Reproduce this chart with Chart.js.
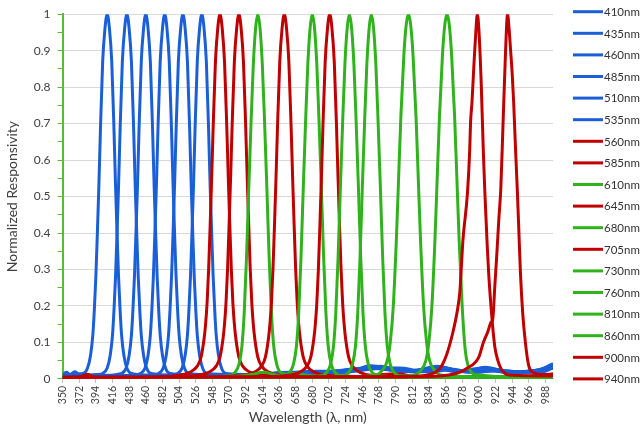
<!DOCTYPE html>
<html>
<head>
<meta charset="utf-8">
<script src="https://cdn.jsdelivr.net/npm/chart.js@4.4.0/dist/chart.umd.min.js"></script>
<style>
  body { margin: 0; background: #fff; }
  #wrap { width: 644px; height: 426px; }
</style>
</head>
<body>
<div id="wrap"><canvas id="resp-chart"></canvas></div>
<script>
/* eslint-disable no-undef */
// Ticks
const xTicks = [350, 372, 394, 416, 438, 460, 482, 504, 526, 548, 570, 592, 614, 636, 658, 680,
  702, 724, 746, 768, 790, 812, 834, 856, 878, 900, 922, 944, 966, 988];
const seriesNames = ['410nm', '435nm', '460nm', '485nm', '510nm', '535nm', '560nm', '585nm', '610nm',
  '645nm', '680nm', '705nm', '730nm', '760nm', '810nm', '860nm', '900nm', '940nm'];
const seriesFamily = ['b', 'b', 'b', 'b', 'b', 'b', 'r', 'r', 'g', 'r', 'g', 'r', 'g', 'g', 'g', 'g', 'r', 'r'];

// [wavelength, responsivity]
const wl410 = [[350, 0.01], [355, 0.018], [360, 0.012], [366, 0.02], [371, 0.014], [377, 0.015], [383, 0.03],
  [387, 0.065], [390, 0.12], [392, 0.19], [394, 0.28], [396, 0.4], [398, 0.53], [400, 0.68], [403, 0.87],
  [406, 0.96], [409, 1], [412, 0.96], [415, 0.87], [418, 0.68], [420, 0.53], [422, 0.4], [424, 0.28],
  [426, 0.19], [428, 0.12], [431, 0.065], [435, 0.03], [441, 0.015], [470, 0.01], [520, 0.008], [580, 0.01],
  [640, 0.012], [690, 0.015], [730, 0.025], [760, 0.032], [790, 0.022], [830, 0.02], [860, 0.028],
  [890, 0.018], [920, 0.022], [960, 0.02], [985, 0.028], [998, 0.04]];
const wl435 = [[350, 0.008], [365, 0.012], [380, 0.01], [395, 0.012], [403, 0.015], [409, 0.03], [413, 0.065],
  [416, 0.12], [418, 0.19], [420, 0.28], [422, 0.4], [424, 0.53], [426, 0.68], [429, 0.87], [432, 0.96],
  [435, 1], [438, 0.96], [441, 0.87], [444, 0.68], [446, 0.53], [448, 0.4], [450, 0.28], [452, 0.19],
  [454, 0.12], [457, 0.065], [461, 0.03], [467, 0.015], [500, 0.01], [560, 0.01], [620, 0.012], [680, 0.018],
  [715, 0.02], [745, 0.028], [770, 0.035], [800, 0.02], [840, 0.03], [870, 0.02], [905, 0.03], [935, 0.018],
  [970, 0.022], [998, 0.03]];
const wl460 = [[350, 0.005], [380, 0.008], [410, 0.01], [428, 0.015], [434, 0.03], [438, 0.065], [441, 0.12],
  [443, 0.19], [445, 0.28], [447, 0.4], [449, 0.53], [451, 0.68], [454, 0.87], [457, 0.96], [460, 1],
  [463, 0.96], [466, 0.87], [469, 0.68], [471, 0.53], [473, 0.4], [475, 0.28], [477, 0.19], [479, 0.12],
  [482, 0.065], [486, 0.03], [492, 0.015], [530, 0.01], [590, 0.012], [650, 0.015], [700, 0.02], [735, 0.025],
  [765, 0.03], [795, 0.03], [825, 0.022], [850, 0.032], [880, 0.02], [910, 0.028], [950, 0.02], [980, 0.025],
  [998, 0.042]];
const wl485 = [[350, 0.006], [400, 0.008], [440, 0.01], [453, 0.015], [459, 0.03], [463, 0.065], [466, 0.12],
  [468, 0.19], [470, 0.28], [472, 0.4], [474, 0.53], [476, 0.68], [479, 0.87], [482, 0.96], [485, 1],
  [488, 0.96], [491, 0.87], [494, 0.68], [496, 0.53], [498, 0.4], [500, 0.28], [502, 0.19], [504, 0.12],
  [507, 0.065], [511, 0.03], [517, 0.015], [560, 0.01], [620, 0.014], [670, 0.02], [710, 0.022], [750, 0.03],
  [780, 0.025], [810, 0.02], [845, 0.035], [875, 0.022], [900, 0.025], [930, 0.02], [965, 0.018], [998, 0.035]];
const wl510 = [[350, 0.005], [420, 0.008], [465, 0.01], [477, 0.015], [483, 0.03], [487, 0.065], [490, 0.12],
  [492, 0.19], [494, 0.28], [496, 0.4], [498, 0.53], [500, 0.68], [503, 0.87], [506, 0.96], [509, 1],
  [512, 0.96], [515, 0.87], [518, 0.68], [520, 0.53], [522, 0.4], [524, 0.28], [526, 0.19], [528, 0.12],
  [531, 0.065], [535, 0.03], [541, 0.015], [580, 0.012], [640, 0.016], [690, 0.02], [725, 0.018], [757, 0.036],
  [785, 0.028], [815, 0.02], [850, 0.028], [885, 0.02], [908, 0.032], [940, 0.02], [975, 0.02], [998, 0.03]];
const wl535 = [[350, 0.004], [440, 0.008], [490, 0.01], [502, 0.015], [508, 0.03], [512, 0.065], [515, 0.12],
  [517, 0.19], [519, 0.28], [521, 0.4], [523, 0.53], [525, 0.68], [528, 0.87], [531, 0.96], [534, 1],
  [537, 0.96], [540, 0.87], [543, 0.68], [545, 0.53], [547, 0.4], [549, 0.28], [551, 0.19], [553, 0.12],
  [556, 0.065], [560, 0.03], [566, 0.015], [600, 0.012], [650, 0.018], [700, 0.016], [740, 0.022], [775, 0.03],
  [805, 0.024], [835, 0.02], [865, 0.025], [895, 0.018], [925, 0.024], [955, 0.018], [985, 0.02], [998, 0.03]];
const wl560 = [[350, 0.004], [372, 0.005], [383, 0.013], [392, 0.004], [450, 0.004], [503, 0.01], [518, 0.018],
  [528, 0.035], [533, 0.06], [537, 0.11], [539, 0.15], [541, 0.21], [543, 0.3], [545, 0.42], [547, 0.55],
  [549, 0.69], [552, 0.87], [555, 0.96], [558, 1], [561, 0.96], [564, 0.87], [567, 0.69], [569, 0.55],
  [571, 0.42], [573, 0.3], [575, 0.21], [577, 0.15], [579, 0.11], [583, 0.06], [588, 0.035], [598, 0.018],
  [613, 0.01], [680, 0.006], [780, 0.006], [880, 0.005], [998, 0.008]];
const wl585 = [[350, 0.003], [460, 0.004], [528, 0.01], [543, 0.018], [553, 0.035], [558, 0.06], [562, 0.11],
  [564, 0.15], [566, 0.21], [568, 0.3], [570, 0.42], [572, 0.55], [574, 0.69], [577, 0.87], [580, 0.96],
  [583, 1], [586, 0.96], [589, 0.87], [592, 0.69], [594, 0.55], [596, 0.42], [598, 0.3], [600, 0.21],
  [602, 0.15], [604, 0.11], [608, 0.06], [613, 0.035], [623, 0.018], [638, 0.01], [720, 0.006], [820, 0.005],
  [920, 0.006], [998, 0.008]];
const wl610 = [[350, 0.003], [520, 0.004], [568, 0.008], [578, 0.018], [583, 0.04], [587, 0.09], [590, 0.18],
  [593, 0.33], [596, 0.52], [599, 0.7], [602, 0.86], [605, 0.96], [608, 1], [611, 0.96], [614, 0.86],
  [617, 0.7], [620, 0.52], [623, 0.33], [626, 0.18], [629, 0.09], [633, 0.04], [638, 0.018], [648, 0.012],
  [660, 0.016], [672, 0.01], [720, 0.006], [850, 0.005], [998, 0.005]];
const wl645 = [[350, 0.003], [520, 0.004], [588, 0.01], [603, 0.018], [613, 0.035], [618, 0.06], [622, 0.11],
  [624, 0.15], [626, 0.21], [628, 0.3], [630, 0.42], [632, 0.55], [634, 0.69], [637, 0.87], [640, 0.96],
  [643, 1], [646, 0.96], [649, 0.87], [652, 0.69], [654, 0.55], [656, 0.42], [658, 0.3], [660, 0.21],
  [662, 0.15], [664, 0.11], [668, 0.06], [673, 0.035], [683, 0.018], [698, 0.01], [780, 0.006], [880, 0.006],
  [998, 0.007]];
const wl680 = [[350, 0.002], [560, 0.004], [600, 0.012], [615, 0.018], [630, 0.012], [640, 0.008], [650, 0.018],
  [655, 0.04], [659, 0.09], [662, 0.18], [665, 0.33], [668, 0.52], [671, 0.7], [674, 0.86], [677, 0.96],
  [680, 1], [683, 0.96], [686, 0.86], [689, 0.7], [692, 0.52], [695, 0.33], [698, 0.18], [701, 0.09],
  [705, 0.04], [710, 0.018], [720, 0.008], [800, 0.005], [998, 0.004]];
const wl705 = [[350, 0.003], [580, 0.004], [648, 0.01], [663, 0.018], [673, 0.035], [678, 0.06], [682, 0.11],
  [684, 0.15], [686, 0.21], [688, 0.3], [690, 0.42], [692, 0.55], [694, 0.69], [697, 0.87], [700, 0.96],
  [703, 1], [706, 0.96], [709, 0.87], [712, 0.69], [714, 0.55], [716, 0.42], [718, 0.3], [720, 0.21],
  [722, 0.15], [724, 0.11], [728, 0.06], [733, 0.035], [743, 0.018], [758, 0.01], [790, 0.014], [820, 0.006],
  [900, 0.006], [998, 0.008]];
const wl730 = [[350, 0.002], [620, 0.004], [689, 0.008], [699, 0.018], [704, 0.04], [708, 0.09], [711, 0.18],
  [714, 0.33], [717, 0.52], [720, 0.7], [723, 0.86], [726, 0.96], [729, 1], [732, 0.96], [735, 0.86],
  [738, 0.7], [741, 0.52], [744, 0.33], [747, 0.18], [750, 0.09], [754, 0.04], [759, 0.018], [769, 0.008],
  [850, 0.005], [998, 0.004]];
const wl760 = [[350, 0.002], [640, 0.004], [718, 0.008], [728, 0.018], [733, 0.04], [737, 0.09], [740, 0.18],
  [743, 0.33], [746, 0.52], [749, 0.7], [752, 0.86], [755, 0.96], [758, 1], [761, 0.96], [764, 0.86],
  [767, 0.7], [770, 0.52], [773, 0.33], [776, 0.18], [779, 0.09], [783, 0.04], [788, 0.018], [798, 0.008],
  [880, 0.005], [998, 0.004]];
const wl810 = [[350, 0.002], [700, 0.004], [762, 0.01], [773, 0.025], [779, 0.05], [783, 0.1], [787, 0.2],
  [791, 0.38], [794, 0.55], [797, 0.72], [801, 0.89], [804, 0.97], [807, 1], [810, 0.97], [813, 0.89],
  [817, 0.72], [820, 0.55], [823, 0.38], [827, 0.2], [831, 0.1], [835, 0.05], [841, 0.025], [852, 0.01],
  [920, 0.005], [998, 0.004]];
const wl860 = [[350, 0.002], [760, 0.004], [813, 0.01], [824, 0.025], [830, 0.05], [834, 0.1], [838, 0.2],
  [842, 0.38], [845, 0.55], [848, 0.72], [852, 0.89], [855, 0.97], [858, 1], [861, 0.97], [864, 0.89],
  [868, 0.72], [871, 0.55], [874, 0.38], [878, 0.2], [882, 0.08], [886, 0.035], [892, 0.015], [903, 0.01],
  [940, 0.005], [998, 0.004]];
const wl900 = [[350, 0.004], [700, 0.005], [800, 0.006], [835, 0.012], [849, 0.03], [858, 0.07], [866, 0.13],
  [871, 0.18], [875, 0.24], [877, 0.31], [879, 0.38], [885, 0.51], [888, 0.63], [889, 0.7], [891, 0.76],
  [894, 0.88], [896, 0.95], [898, 1], [900, 0.96], [903, 0.82], [906, 0.62], [908, 0.51], [911, 0.37],
  [913, 0.29], [916, 0.2], [918, 0.15], [921, 0.09], [924.5, 0.055], [932, 0.02], [945, 0.01], [998, 0.008]];
const wl940 = [[350, 0.005], [700, 0.006], [820, 0.006], [870, 0.015], [885, 0.03], [900, 0.06], [906, 0.1],
  [912, 0.13], [916, 0.155], [918.5, 0.165], [921, 0.25], [924, 0.35], [926.5, 0.44], [929, 0.52], [932, 0.7],
  [935, 0.88], [938, 1], [940, 0.96], [942, 0.9], [944, 0.84], [946, 0.76], [948.5, 0.63], [951, 0.51],
  [953, 0.4], [955, 0.29], [958, 0.18], [961.5, 0.1], [965.5, 0.04], [970, 0.02], [985, 0.012], [998, 0.014]];

const seriesData = [wl410, wl435, wl460, wl485, wl510, wl535, wl560, wl585, wl610,
  wl645, wl680, wl705, wl730, wl760, wl810, wl860, wl900, wl940];

const colours = { b: '#1a5fd8', r: '#c00000', g: '#2fb21c' };
const axisGreen = '#5cb83a';
const fontFamily = 'Lato, "Open Sans", sans-serif';

// Legend drawn beside the plot, one line sample per series
const sideLegend = {
  id: 'sideLegend',
  afterDraw(chart) {
    const { ctx, chartArea } = chart;
    const x0 = chartArea.right + 20;
    ctx.save();
    ctx.font = `11.5px ${fontFamily}`;
    ctx.textBaseline = 'middle';
    chart.data.datasets.forEach((ds, i) => {
      const y = chartArea.top - 2.5 + i * 21.6;
      ctx.strokeStyle = ds.borderColor;
      ctx.lineWidth = 3;
      ctx.beginPath();
      ctx.moveTo(x0, y);
      ctx.lineTo(x0 + 30, y);
      ctx.stroke();
      ctx.fillStyle = '#333';
      ctx.fillText(ds.label, x0 + 31, y + 0.5);
    });
    ctx.restore();
  },
};

const datasets = seriesNames.map((name, i) => ({
  label: name,
  data: seriesData[i],
  borderColor: colours[seriesFamily[i]],
  borderWidth: 3,
  pointRadius: 0,
  fill: false,
  cubicInterpolationMode: 'monotone',
  order: -i,
}));

const respChart = new Chart(document.getElementById('resp-chart').getContext('2d'), {
  type: 'line',
  data: { datasets },
  plugins: [sideLegend],
  options: {
    responsive: true,
    maintainAspectRatio: false,
    animation: false,
    devicePixelRatio: 1,
    layout: { padding: { top: 11, right: 91, bottom: 0, left: 0 } },
    plugins: { legend: { display: false }, tooltip: { enabled: false } },
    scales: {
      x: {
        type: 'linear',
        min: 350,
        max: 998,
        afterBuildTicks: (scale) => { scale.ticks = xTicks.map((v) => ({ value: v })); },
        ticks: {
          minRotation: 90,
          maxRotation: 90,
          padding: 3,
          color: '#404040',
          font: { family: fontFamily, size: 10.5 },
          callback: (v) => String(v),
        },
        grid: { drawOnChartArea: false, drawTicks: true, tickLength: 4, tickColor: '#bfbfbf' },
        border: { color: '#bfbfbf', width: 1 },
        title: {
          display: true,
          text: 'Wavelength (λ, nm)',
          color: '#404040',
          font: { family: fontFamily, size: 14 },
          padding: { top: 2, bottom: 0 },
        },
      },
      y: {
        min: 0,
        max: 1,
        ticks: {
          stepSize: 0.05,
          padding: 7,
          color: '#404040',
          font: { family: fontFamily, size: 12 },
          callback: (v) => (Math.round(v * 100) % 10 === 0 ? String(Math.round(v * 10) / 10) : ''),
        },
        grid: {
          color: (c) => (c.tick && Math.round(c.tick.value * 100) % 10 === 0 ? '#d9d9d9' : 'rgba(0,0,0,0)'),
          lineWidth: 1,
          tickLength: 5,
          tickColor: axisGreen,
        },
        border: { color: axisGreen, width: 2 },
        title: {
          display: true,
          text: 'Normalized Responsivity',
          color: '#404040',
          font: { family: fontFamily, size: 14 },
          padding: { top: 4, bottom: 6 },
        },
      },
    },
  },
});
respChart.update();
</script>
</body>
</html>
